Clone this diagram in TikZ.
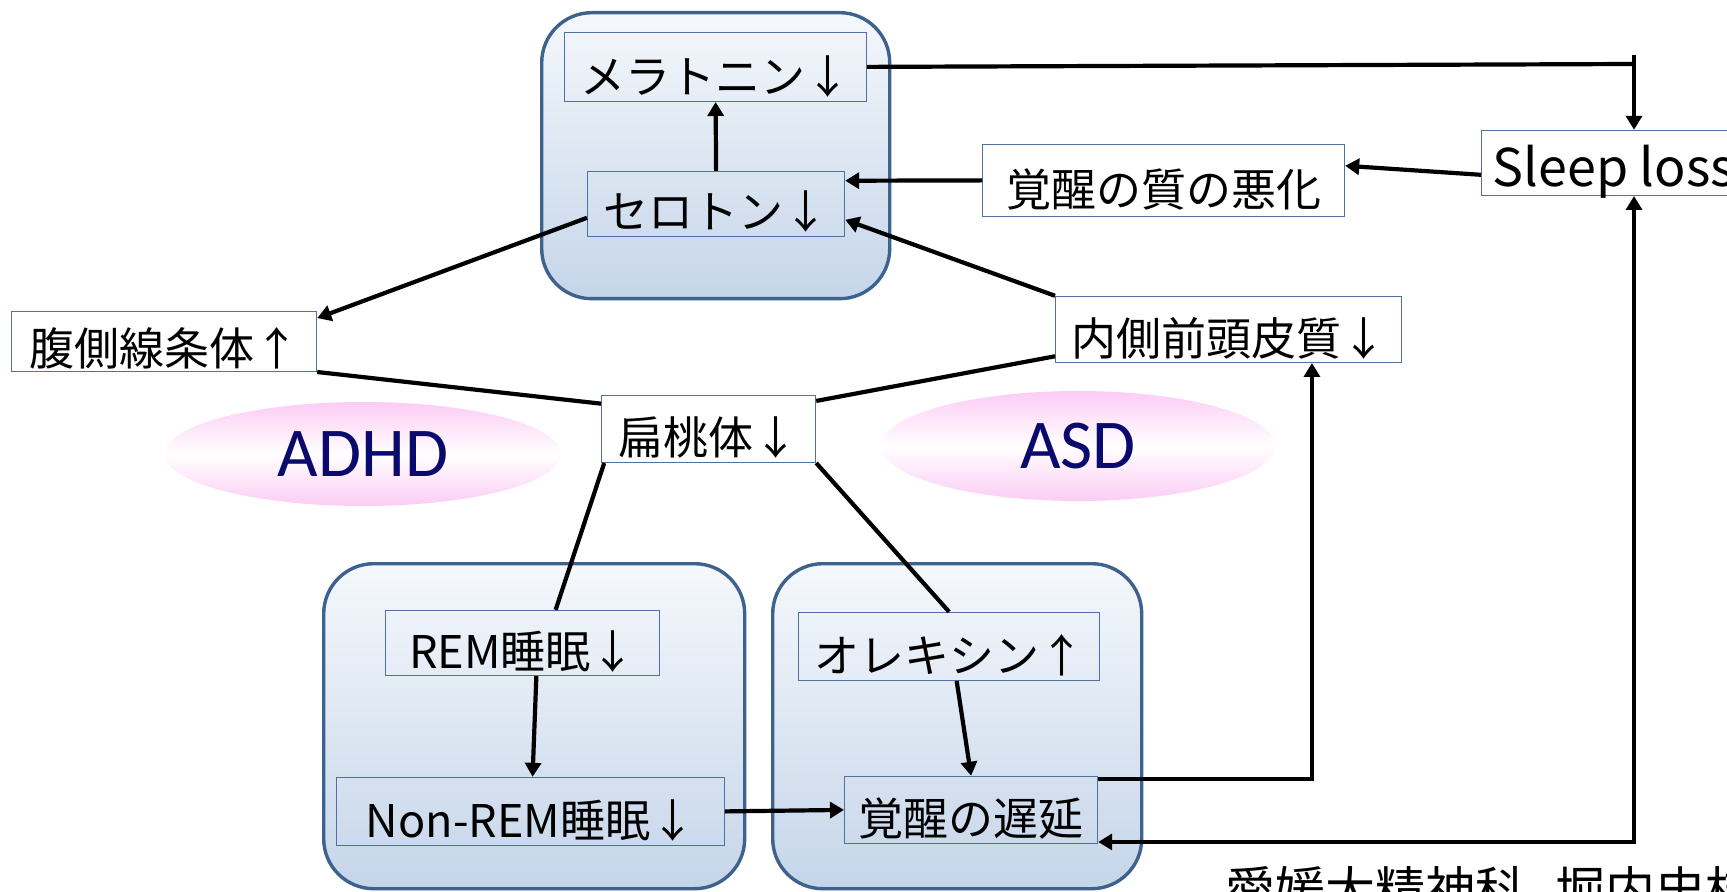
\documentclass[tikz,border=0pt]{standalone}
\usepackage{fontspec}
\setmainfont{Noto Sans CJK JP}
\newfontfamily\carl{Carlito}
\usetikzlibrary{arrows.meta,calc,shapes.geometric}
\definecolor{frameblue}{RGB}{62,98,142}
\definecolor{boxblue}{RGB}{79,112,160}
\definecolor{gradtop}{RGB}{245,248,252}
\definecolor{gradbot}{RGB}{197,213,233}
\definecolor{pinkc}{RGB}{252,204,245}
\definecolor{navy}{RGB}{10,10,110}
\tikzset{
  panel/.style={draw=frameblue, line width=1.7pt, rounded corners=25pt, top color=gradtop, bottom color=gradbot, inner sep=0pt, anchor=north west},
  lbl/.style={draw=boxblue, line width=0.6pt, inner xsep=0pt, inner ysep=0pt, font=\fontsize{22.5}{24}\selectfont, anchor=south west, text depth=4pt},
  conn/.style={line width=2.1pt, draw=black},
  arr/.style={conn, -{Triangle[length=7pt,width=8pt]}},
  oval/.style={ellipse, top color=pinkc, bottom color=pinkc, middle color=white, text=navy, font=\carl\fontsize{35}{38}\selectfont, inner sep=0pt},
}
\begin{document}
\begin{tikzpicture}[x=0.5pt,y=-0.5pt]
\useasboundingbox (0,0) rectangle (1727,892);
\fill[white] (0,0) rectangle (1727,892);
% panels
\node[panel, minimum width=174pt, minimum height=143pt] (ptop) at (540,11) {};
\node[panel, minimum width=210.5pt, minimum height=162.5pt] (pleft) at (322,562) {};
\node[panel, minimum width=184.5pt, minimum height=162.5pt] (pright) at (771,562) {};
% ellipses
\node[oval, minimum width=198pt, minimum height=52pt] (adhd) at (363,454) {ADHD};
\node[oval, minimum width=197pt, minimum height=55pt] (asd) at (1078,446) {ASD};
% boxes
\node[lbl, minimum width=151pt, text height=30.5pt] (mel) at (564,102) {メラトニン↓};
\node[lbl, minimum width=128.5pt, text height=28.5pt] (sero) at (587,237) {セロトン↓};
\node[lbl, minimum width=181pt, text height=31pt, text depth=5pt] (kaku) at (982,217) {覚醒の質の悪化};
\node[lbl, inner xsep=5.5pt, text height=28pt, text depth=4.5pt, font=\fontsize{26}{28}\selectfont] (sleep) at (1481,196) {Sleep loss};
\node[lbl, minimum width=152.5pt, text height=27pt, text depth=3pt] (fuku) at (11,372) {腹側線条体↑};
\node[lbl, minimum width=173pt, text height=29.5pt, text depth=3.5pt] (nai) at (1055,363) {内側前頭皮質↓};
\node[lbl, minimum width=107pt, text height=29.5pt] (hen) at (601,463) {扁桃体↓};
\node[lbl, minimum width=137pt, text height=29pt, text depth=3.5pt] (rem) at (385,676) {REM睡眠↓};
\node[lbl, minimum width=194pt, text height=30pt] (nonrem) at (336,846) {Non-REM睡眠↓};
\node[lbl, minimum width=150.5pt, text height=30pt] (ore) at (798,681) {オレキシン↑};
\node[lbl, minimum width=126.5pt, text height=29.5pt, text depth=4pt] (chien) at (844,844) {覚醒の遅延};
\node[anchor=base west, font=\fontsize{25}{27}\selectfont, inner sep=0pt] (credit) at (1225,908) {愛媛大精神科\hspace{0.6em}堀内史枝};
% connectors
\coordinate (tee) at (1634,64);
\coordinate (teetop) at (1634,55);
\draw[arr] (sero.north) -- (mel.south);
\draw[conn] (mel.east) -- (tee);
\draw[arr] (teetop) -- (teetop |- sleep.north);
\draw[arr] ($(sleep.north west)!0.68!(sleep.south west)$) -- ($(kaku.north east)!0.3!(kaku.south east)$);
\draw[arr] (kaku.west) -- ($(sero.north east)!0.15!(sero.south east)$);
\draw[arr] (nai.north west) -- ($(sero.north east)!0.74!(sero.south east)$);
\draw[arr] ($(sero.north west)!0.71!(sero.south west)$) -- ($(fuku.north east)!0.12!(fuku.south east)$);
\draw[conn] (fuku.south east) -- ($(hen.north west)!0.13!(hen.south west)$);
\draw[conn] ($(hen.north east)!0.09!(hen.south east)$) -- ($(nai.north west)!0.9!(nai.south west)$);
\draw[conn] ($(hen.south west)!0.015!(hen.south east)$) -- ($(rem.north west)!0.62!(rem.north east)$);
\draw[conn] (hen.south east) -- (ore.north);
\draw[arr] ($(rem.south west)!0.55!(rem.south east)$) -- ($(nonrem.north west)!0.505!(nonrem.north east)$);
\draw[arr] ($(ore.south west)!0.525!(ore.south east)$) -- (chien.north);
\draw[arr] (nonrem.east) -- (chien.west);
\draw[arr] ($(chien.north east)!0.05!(chien.south east)$) -| ($(nai.south west)!0.74!(nai.south east)$);
\draw[conn, {Triangle[length=7pt,width=8pt]}-{Triangle[length=7pt,width=8pt]}] (tee |- sleep.south) |- ($(chien.north east)!0.97!(chien.south east)$);
\end{tikzpicture}
\end{document}
